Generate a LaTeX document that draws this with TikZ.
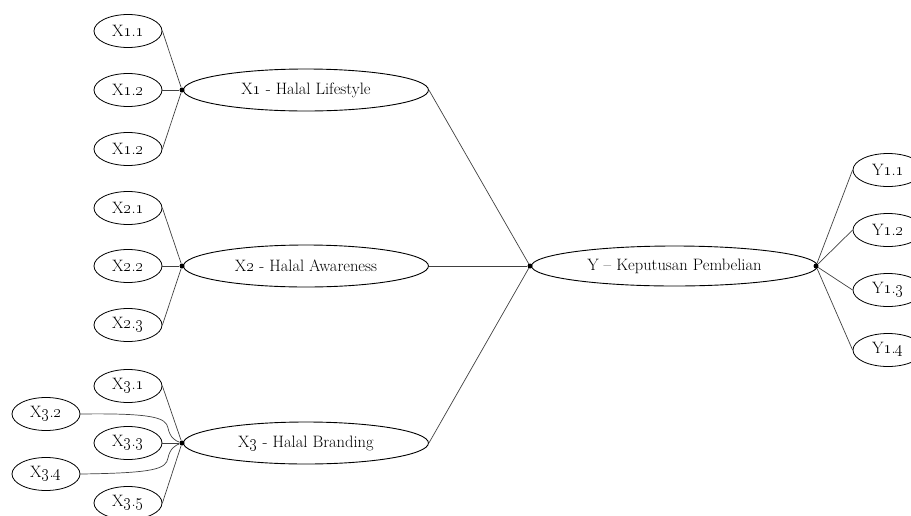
\documentclass[tikz,border=0pt]{standalone}
\usetikzlibrary{shapes.geometric}
\newcommand{\ind}[3]{#1\oldstylenums{#2}.\oldstylenums{#3}}
\begin{document}
\begin{tikzpicture}[x=1pt,y=-1pt,
  every node/.style={font=\fontsize{16.5}{19}\selectfont},
  indi/.style={ellipse, draw, line width=0.8pt, minimum width=68, minimum height=33, inner sep=0},
  lat/.style={ellipse, draw, line width=0.9pt, minimum width=245, minimum height=42, inner sep=0},
  hub/.style={circle, fill=black, inner sep=0, minimum size=5},
  conn/.style={draw=black!75, line width=0.7pt}]
\useasboundingbox (0,0) rectangle (911,515);
% hubs
\node[hub] (h1) at (182,90) {};
\node[hub] (h2) at (182,266) {};
\node[hub] (h3) at (182,443) {};
\node[hub] (hy) at (530,266) {};
\node[hub] (hz) at (816,266) {};
% latent
\node[lat, anchor=west] (x1) at (183,90) {X\oldstylenums{1} - Halal Lifestyle};
\node[lat, anchor=west] (x2) at (183,266) {X\oldstylenums{2} - Halal Awareness};
\node[lat, anchor=west] (x3) at (183,443) {X\oldstylenums{3} - Halal Branding};
\node[lat, anchor=west, minimum width=286, minimum height=40] (y) at (531,266) {Y -- Keputusan Pembelian};
% indicators X1
\node[indi] (x11) at (128,31) {\ind{X}{1}{1}};
\node[indi] (x12) at (128,90) {\ind{X}{1}{2}};
\node[indi] (x13) at (128,149) {\ind{X}{1}{2}};
% X2
\node[indi] (x21) at (128,208) {\ind{X}{2}{1}};
\node[indi] (x22) at (128,266) {\ind{X}{2}{2}};
\node[indi] (x23) at (128,325) {\ind{X}{2}{3}};
% X3
\node[indi] (x31) at (128,386) {\ind{X}{3}{1}};
\node[indi] (x32) at (46,414) {\ind{X}{3}{2}};
\node[indi] (x33) at (128,443) {\ind{X}{3}{3}};
\node[indi] (x34) at (46,474) {\ind{X}{3}{4}};
\node[indi] (x35) at (128,503) {\ind{X}{3}{5}};
% Y
\node[indi, minimum width=70] (y11) at (888,170) {\ind{Y}{1}{1}};
\node[indi, minimum width=70] (y12) at (888,230) {\ind{Y}{1}{2}};
\node[indi, minimum width=70] (y13) at (888,290) {\ind{Y}{1}{3}};
\node[indi, minimum width=70] (y14) at (888,350) {\ind{Y}{1}{4}};
% connectors
\draw[conn] (x11.east) -- (h1);
\draw[conn] (x12.east) -- (h1);
\draw[conn] (x13.east) -- (h1);
\draw[conn] (x21.east) -- (h2);
\draw[conn] (x22.east) -- (h2);
\draw[conn] (x23.east) -- (h2);
\draw[conn] (x31.east) -- (h3);
\draw[conn] (x33.east) -- (h3);
\draw[conn] (x35.east) -- (h3);
\draw[conn] (x32.east) .. controls (155,413) and (166,418) .. (168,428) .. controls (170,438) and (176,441) .. (h3);
\draw[conn] (x34.east) .. controls (155,473) and (166,469) .. (168,458) .. controls (170,448) and (176,445) .. (h3);
\draw[conn] (x1.east) -- (hy);
\draw[conn] (x2.east) -- (hy);
\draw[conn] (x3.east) -- (hy);
\draw[conn] (hz) -- (y11.west);
\draw[conn] (hz) -- (y12.west);
\draw[conn] (hz) -- (y13.west);
\draw[conn] (hz) -- (y14.west);
\end{tikzpicture}
\end{document}
